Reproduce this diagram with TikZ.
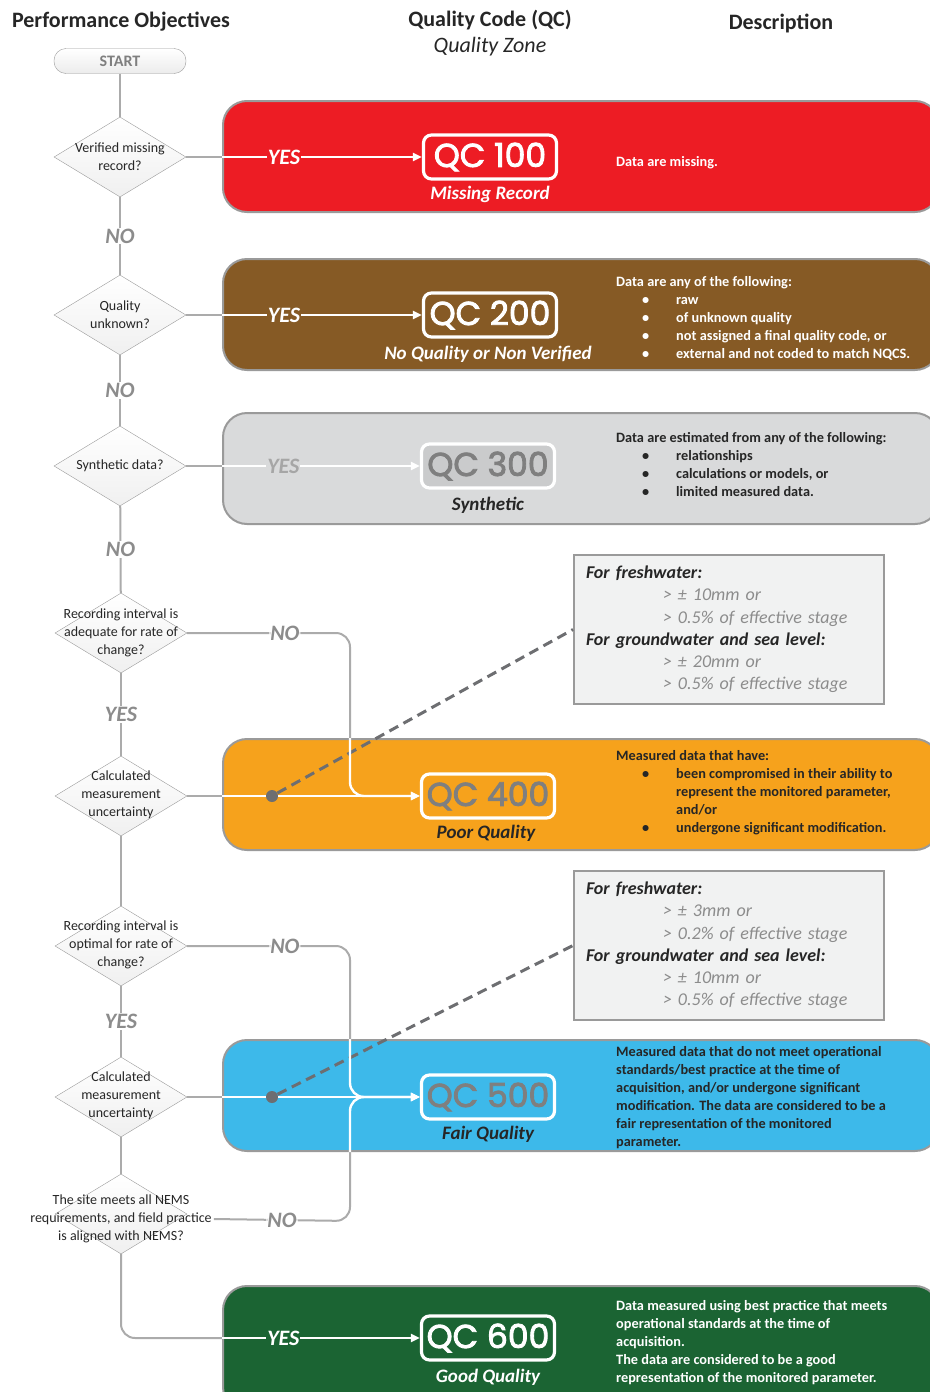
\documentclass[tikz,border=0pt]{standalone}
\usepackage{fontspec}
\setmainfont{Carlito}
\newfontfamily\qcfont{Poppins}[FakeBold=2.6]
\usetikzlibrary{shapes.geometric,arrows.meta}
\definecolor{qcred}{HTML}{ED1C24}
\definecolor{qcbrown}{HTML}{865A25}
\definecolor{qcgrey}{HTML}{D9DADB}
\definecolor{qcorange}{HTML}{F6A21C}
\definecolor{qcblue}{HTML}{3DB9EA}
\definecolor{qcgreen}{HTML}{1B6433}
\definecolor{flowline}{HTML}{ABABAB}
\definecolor{rim}{HTML}{9A9A9A}
\definecolor{ink}{HTML}{262626}
\definecolor{faint}{HTML}{8C8C8C}
\definecolor{qcink}{HTML}{7F7F7F}
\definecolor{critfill}{HTML}{F1F2F2}
\definecolor{dotgrey}{HTML}{6D6E71}

\newcommand\qcitem[1]{\makebox[60pt][l]{\hspace{26pt}\textbullet}#1}
\newcommand\qcmore[1]{\hspace*{60pt}#1}
\newcommand\limit[1]{\hspace*{77pt}{\color{faint}\itshape #1}}

\tikzset{
  head/.style={text=ink,font=\bfseries\fontsize{22}{26}\selectfont},
  decision/.style={diamond,draw=rim,top color=white,bottom color=gray!12,minimum width=132pt,minimum height=80pt,inner sep=0pt},
  dtext/.style={align=center,text=ink,font=\fontsize{14}{18}\selectfont,inner sep=2pt},
  band/.style={rectangle,rounded corners=24pt,draw=rim,line width=2pt,minimum width=716pt,minimum height=111pt,anchor=north west},
  qcbox/.style={rectangle,rounded corners=8pt,draw=white,line width=3.2pt,minimum width=133pt,minimum height=44pt,inner sep=0pt,font=\qcfont\fontsize{33}{33}\selectfont},
  zone/.style={font=\bfseries\itshape\fontsize{19}{22}\selectfont},
  desc/.style={anchor=north west,align=left,inner sep=0pt,font=\bfseries\fontsize{14.3}{18}\selectfont},
  crit/.style={anchor=north west,draw=rim,fill=critfill,line width=2pt,minimum width=310pt,minimum height=149pt,text width=286pt,inner xsep=12pt,align=left,text=ink,font=\fontsize{18}{22.2}\selectfont},
  flow/.style={draw=flowline,line width=2pt},
  inflow/.style={draw=white,line width=2.4pt},
  qcarrow/.style={-{Triangle[length=9pt,width=8pt]}},
  yesno/.style={font=\bfseries\itshape\fontsize{22}{22}\selectfont,inner sep=1pt},
  vlabel/.style={yesno,fill=white,text=faint},
  dot/.style={circle,fill=dotgrey,minimum size=12pt,inner sep=0pt},
  leader/.style={draw=dotgrey,line width=3pt,dash pattern=on 10pt off 6pt}
}

\begin{document}
\begin{tikzpicture}[x=1pt,y=-1pt]
\useasboundingbox (0,0) rectangle (929,1392);
\path
  (121,22) node[head] (hpo) {Performance Objectives}
  (490,20) node[head] (hqc) {Quality Code (QC)}
  (490,47) node[text=ink,font=\itshape\fontsize{22}{26}\selectfont] (hzone) {Quality Zone}
  (781,23) node[head] (hdesc) {Description}
  (120,61) node[rectangle,rounded corners=12pt,draw=rim,top color=white,bottom color=gray!15,minimum width=132pt,minimum height=25pt,text=qcink,font=\bfseries\fontsize{16}{16}\selectfont] (start) {START}
  ;

\path
  (222,100) node[band,fill=qcred] (b1) {}
  (222,258) node[band,fill=qcbrown] (b2) {}
  (222,412) node[band,fill=qcgrey] (b3) {}
  (222,738) node[band,fill=qcorange] (b4) {}
  (222,1039) node[band,fill=qcblue] (b5) {}
  (222,1285) node[band,fill=qcgreen,minimum height=125pt] (b6) {}
  ;

\path
  (490,157) node[qcbox,text=white] (qc1) {QC 100}
  (490,315) node[qcbox,text=white] (qc2) {QC 200}
  (488,466) node[qcbox,text=qcink,fill=qcgrey!93!black] (qc3) {QC 300}
  (488,796) node[qcbox,text=qcink] (qc4) {QC 400}
  (488,1097) node[qcbox,text=qcink] (qc5) {QC 500}
  (488,1338) node[qcbox,text=white] (qc6) {QC 600}
  (490,194) node[zone,text=white] (z1) {Missing Record}
  (488,354) node[zone,text=white] (z2) {No Quality or Non Verified}
  (488,505) node[zone,text=ink] (z3) {Synthetic}
  (486,833) node[zone,text=ink] (z4) {Poor Quality}
  (488,1134) node[zone,text=ink] (z5) {Fair Quality}
  (488,1377) node[zone,text=white] (z6) {Good Quality}
  ;

\path
  (616,163) node[desc,anchor=west,text=white] (e1) {Data are missing.}
  (616,276) node[desc,text=white] (e2) {Data are any of the following:\\\qcitem{raw}\\\qcitem{of unknown quality}\\\qcitem{not assigned a final quality code, or}\\\qcitem{external and not coded to match NQCS.}}
  (616,432) node[desc,text=ink] (e3) {Data are estimated from any of the following:\\\qcitem{relationships}\\\qcitem{calculations or models, or}\\\qcitem{limited measured data.}}
  (616,750) node[desc,text=ink] (e4) {Measured data that have:\\\qcitem{been compromised in their ability to}\\\qcmore{represent the monitored parameter,}\\\qcmore{and/or}\\\qcitem{undergone significant modification.}}
  (616,1046) node[desc,text=ink] (e5) {Measured data that do not meet operational\\standards/best practice at the time of\\acquisition, and/or undergone significant\\modification. The data are considered to be a\\fair representation of the monitored\\parameter.}
  (616,1300) node[desc,text=white] (e6) {Data measured using best practice that meets\\operational standards at the time of\\acquisition.\\The data are considered to be a good\\representation of the monitored parameter.}
  ;

\path
  (573,554) node[crit] (c4) {\textbf{\textit{For freshwater:}}\\\limit{> ± 10mm or}\\\limit{> 0.5\% of effective stage}\\\textbf{\textit{For groundwater and sea level:}}\\\limit{> ± 20mm or}\\\limit{> 0.5\% of effective stage}}
  (573,870) node[crit] (c5) {\textbf{\textit{For freshwater:}}\\\limit{> ± 3mm or}\\\limit{> 0.2\% of effective stage}\\\textbf{\textit{For groundwater and sea level:}}\\\limit{> ± 10mm or}\\\limit{> 0.5\% of effective stage}}
  ;

\path
  (120,157) node[decision] (d1) {}
  (120,157) node[dtext] (t1) {Verified missing\\record?}
  (120,315) node[decision] (d2) {}
  (120,315) node[dtext] (t2) {Quality\\unknown?}
  (120,466) node[decision] (d3) {}
  (120,466) node[dtext] (t3) {Synthetic data?}
  (121,633) node[decision] (d4) {}
  (121,633) node[dtext] (t4) {Recording interval is\\adequate for rate of\\change?}
  (121,796) node[decision] (d5) {}
  (121,795) node[dtext] (t5) {Calculated\\measurement\\uncertainty}
  (121,946) node[decision] (d6) {}
  (121,945) node[dtext] (t6) {Recording interval is\\optimal for rate of\\change?}
  (121,1097) node[decision] (d7) {}
  (121,1096) node[dtext] (t7) {Calculated\\measurement\\uncertainty}
  (121,1214) node[decision] (d8) {}
  (121,1219) node[dtext] (t8) {The site meets all NEMS\\requirements, and field practice\\is aligned with NEMS?}
  (272,796) node[dot] (p4) {}
  (272,1097) node[dot] (p5) {}
  ;
\coordinate (k4) at (350,633);
\coordinate (k6) at (350,946);
\coordinate (k8) at (350,1221);

\draw[flow] (start) -- (d1);
\draw[flow] (d1) -- node[vlabel]{NO} (d2);
\draw[flow] (d2) -- node[vlabel]{NO} (d3);
\draw[flow] (d3) -- node[vlabel]{NO} (d4);
\draw[flow] (d4) -- node[vlabel]{YES} (d5);
\draw[flow] (d5) -- (d6);
\draw[flow] (d6) -- node[vlabel]{YES} (d7);
\draw[flow] (d7) -- (d8);

\draw[flow] (d1.east) -- (b1.west |- d1.east);
\draw[inflow,qcarrow] (b1.west |- d1.east) -- node[pos=0.31,yesno,fill=qcred,text=white]{YES} (qc1.west);
\draw[flow] (d2.east) -- (b2.west |- d2.east);
\draw[inflow,qcarrow] (b2.west |- d2.east) -- node[pos=0.31,yesno,fill=qcbrown,text=white]{YES} (qc2.west);
\draw[flow] (d3.east) -- (b3.west |- d3.east);
\draw[inflow,qcarrow] (b3.west |- d3.east) -- node[pos=0.31,yesno,fill=qcgrey,text=gray!70]{YES} (qc3.west);

\draw[leader] (p4) -- (c4.west);
\draw[flow] (d5.east) -- (b4.west |- d5.east);
\draw[inflow] (b4.west |- d5.east) -- (p4);
\draw[inflow,qcarrow] (p4) -- (qc4.west);
\draw[flow,rounded corners=14pt] (d4.east) -- node[pos=0.6,vlabel]{NO} (k4) -- (k4 |- b4.north);
\draw[inflow,qcarrow,rounded corners=14pt] (k4 |- b4.north) -- (k4 |- qc4.west) -- (qc4.west);

\draw[leader] (p5) -- (c5.west);
\draw[flow] (d7.east) -- (b5.west |- d7.east);
\draw[inflow] (b5.west |- d7.east) -- (p5);
\draw[inflow,qcarrow] (p5) -- (qc5.west);
\draw[flow,rounded corners=14pt] (d6.east) -- node[pos=0.6,vlabel]{NO} (k6) -- (k6 |- b5.north);
\draw[inflow,qcarrow,rounded corners=14pt] (k6 |- b5.north) -- (k6 |- qc5.west) -- (qc5.west);
\draw[flow,rounded corners=14pt] (t8.east) -- node[pos=0.5,vlabel]{NO} (k8) -- (k8 |- b5.south);
\draw[inflow,qcarrow,rounded corners=14pt] (k8 |- b5.south) -- (k8 |- qc5.west) -- (qc5.west);

\draw[flow,rounded corners=14pt] (d8.south) -- (d8.south |- qc6.west) -- (b6.west |- qc6.west);
\draw[inflow,qcarrow] (b6.west |- qc6.west) -- node[pos=0.31,yesno,fill=qcgreen,text=white]{YES} (qc6.west);
\end{tikzpicture}
\end{document}
